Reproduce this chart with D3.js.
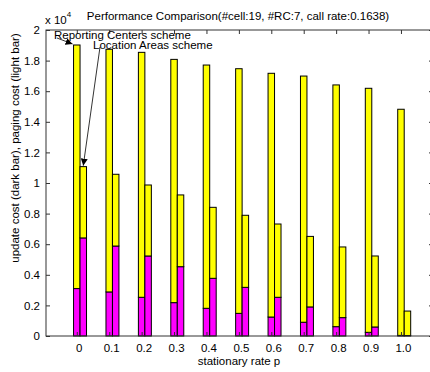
<!DOCTYPE html>
<html>
<head>
<meta charset="utf-8">
<script src="https://cdn.jsdelivr.net/npm/d3@7"></script>
<style>
  body { margin: 0; background: #fff; }
  svg { display: block; font-family: "Liberation Sans", Arial, sans-serif; }
  .tick text { font-size: 11.5px; fill: #000; }
</style>
</head>
<body>
<svg width="430" height="372"></svg>
<script>
// stationary rate p (categories)
const rates = [0, 0.1, 0.2, 0.3, 0.4, 0.5, 0.6, 0.7, 0.8, 0.9, 1.0];
const rateLabels = ["0", "0.1", "0.2", "0.3", "0.4", "0.5", "0.6", "0.7", "0.8", "0.9", "1.0"];

// Reporting Centers scheme
const rcUpdate = [3100, 2880, 2530, 2180, 1810, 1480, 1240, 900, 610, 240, 40];
const rcPaging = [15920, 15860, 16010, 15900, 15900, 15990, 15930, 16090, 15800, 15950, 14780];

// Location Areas scheme
const laUpdate = [6410, 5880, 5230, 4530, 3770, 3180, 2530, 1900, 1200, 590, 30];
const laPaging = [4660, 4690, 4640, 4690, 4640, 4710, 4790, 4610, 4620, 4640, 1600];

const yTicks = [0, 2000, 4000, 6000, 8000, 10000, 12000, 14000, 16000, 18000, 20000];

const plotL = 46, plotR = 433, plotT = 30, plotB = 336;
const barW = 0.02;

const svg = d3.select("svg");

const x = d3.scaleLinear().domain([-0.095, 1.105]).range([plotL, 435]);
const y = d3.scaleLinear().domain([0, 20000]).range([plotB, plotT]);

// series: offset in p units from the category position
const series = [
  { name: "Reporting Centers scheme", offset: -barW / 2, update: rcUpdate, paging: rcPaging },
  { name: "Location Areas scheme", offset: barW / 2, update: laUpdate, paging: laPaging }
];

const g = svg.append("g");

series.forEach(s => {
  const grp = g.append("g");
  // dark bar (update cost)
  grp.selectAll(".upd")
    .data(rates)
    .enter()
    .append("rect")
    .attr("x", (d) => x(d + s.offset))
    .attr("width", x(barW) - x(0))
    .attr("y", (d, i) => y(s.update[i]))
    .attr("height", (d, i) => y(0) - y(s.update[i]))
    .attr("fill", "#ff00ff")
    .attr("stroke", "#000")
    .attr("stroke-width", 1);
  // light bar (paging cost) stacked on top
  grp.selectAll(".pag")
    .data(rates)
    .enter()
    .append("rect")
    .attr("x", (d) => x(d + s.offset))
    .attr("width", x(barW) - x(0))
    .attr("y", (d, i) => y(s.update[i] + s.paging[i]))
    .attr("height", (d, i) => y(s.update[i]) - y(s.update[i] + s.paging[i]))
    .attr("fill", "#ffff00")
    .attr("stroke", "#000")
    .attr("stroke-width", 1);
});

// axes box with inward ticks (matlab style)
const axisColor = "#333";
svg.append("rect")
  .attr("x", plotL).attr("y", plotT)
  .attr("width", plotR - plotL).attr("height", plotB - plotT)
  .attr("fill", "none").attr("stroke", axisColor);

const yAxis = svg.append("g")
  .attr("transform", `translate(${plotL},0)`)
  .call(d3.axisLeft(y).tickValues(yTicks).tickSize(-4).tickPadding(6)
    .tickFormat(d => d3.format("~g")(d / 10000)));
yAxis.select(".domain").remove();
yAxis.selectAll("line").attr("stroke", axisColor);

const yAxisR = svg.append("g")
  .attr("transform", `translate(${plotR},0)`)
  .call(d3.axisRight(y).tickValues(yTicks).tickSize(-4).tickFormat(""));
yAxisR.select(".domain").remove();
yAxisR.selectAll("line").attr("stroke", axisColor);

const xAxis = svg.append("g")
  .attr("transform", `translate(0,${plotB})`)
  .call(d3.axisBottom(x).tickValues(rates).tickSize(-4).tickPadding(8)
    .tickFormat((d, i) => rateLabels[i]));
xAxis.select(".domain").remove();
xAxis.selectAll("line").attr("stroke", axisColor);
xAxis.selectAll("text").attr("dx", 2);

const xAxisT = svg.append("g")
  .attr("transform", `translate(0,${plotT})`)
  .call(d3.axisTop(x).tickValues(rates).tickSize(-4).tickFormat(""));
xAxisT.select(".domain").remove();
xAxisT.selectAll("line").attr("stroke", axisColor);

// exponent label
const expo = svg.append("text")
  .attr("x", 45).attr("y", 23.5)
  .attr("font-size", 11.5);
expo.append("tspan").text("x 10");
expo.append("tspan").attr("dy", -7).attr("font-size", 8).text("4");

// title
svg.append("text")
  .attr("x", 238).attr("y", 19.5)
  .attr("text-anchor", "middle")
  .attr("font-size", 11.5)
  .text("Performance Comparison(#cell:19, #RC:7, call rate:0.1638)");

// axis labels
svg.append("text")
  .attr("x", 239).attr("y", 365)
  .attr("text-anchor", "middle")
  .attr("font-size", 11.5)
  .text("stationary rate p");

svg.append("text")
  .attr("transform", "translate(19,148) rotate(-90)")
  .attr("text-anchor", "middle")
  .attr("font-size", 11.5)
  .text("update cost (dark bar), paging cost (light bar)");

// annotations with arrows
svg.append("defs").append("marker")
  .attr("id", "arr")
  .attr("viewBox", "0 0 10 10")
  .attr("refX", 10).attr("refY", 5)
  .attr("markerWidth", 7).attr("markerHeight", 7)
  .attr("markerUnits", "userSpaceOnUse")
  .attr("orient", "auto")
  .append("path")
  .attr("d", "M0,0 L10,5 L0,10 z")
  .attr("fill", "#000");

const annos = [
  { text: series[0].name, tx: 54, ty: 38.5, from: [57, 38],
    to: [x(rates[0] + series[0].offset) - 1, y(rcUpdate[0] + rcPaging[0]) - 1] },
  { text: series[1].name, tx: 93, ty: 48.5, from: [100, 47],
    to: [x(rates[0] + series[1].offset + barW / 2), y(laUpdate[0] + laPaging[0]) - 1] }
];

annos.forEach(a => {
  svg.append("line")
    .attr("x1", a.from[0]).attr("y1", a.from[1])
    .attr("x2", a.to[0]).attr("y2", a.to[1])
    .attr("stroke", "#000").attr("stroke-width", 0.8)
    .attr("marker-end", "url(#arr)");
  svg.append("text")
    .attr("x", a.tx).attr("y", a.ty)
    .attr("font-size", 11.5)
    .text(a.text);
});
</script>
</body>
</html>
